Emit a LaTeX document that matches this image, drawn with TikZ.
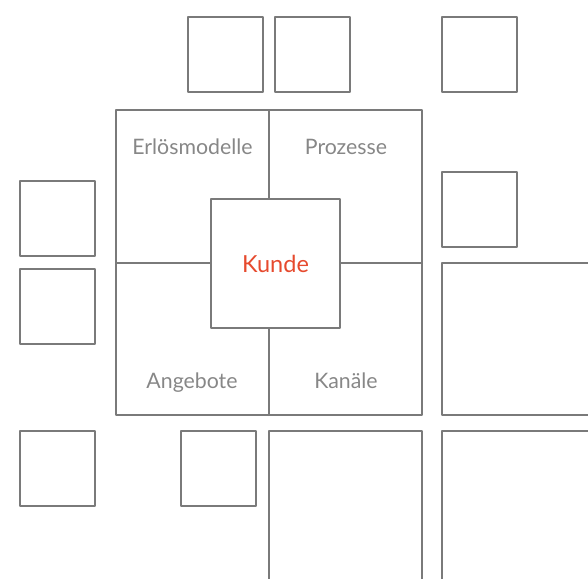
\documentclass[tikz,border=0pt]{standalone}
\usepackage{fontspec}
\setmainfont{Lato}
\definecolor{linegray}{RGB}{122,122,122}
\definecolor{textgray}{RGB}{135,135,135}
\definecolor{kundeorange}{RGB}{230,74,46}
\begin{document}
\begin{tikzpicture}[x=1pt,y=-1pt,line join=round,
	box/.style={draw=linegray,line width=2pt,minimum size=75pt,inner sep=0pt},
	bigbox/.style={box,minimum size=153pt},
	lbl/.style={text=textgray,anchor=base,font=\fontsize{21.3}{25}\selectfont}]
	\useasboundingbox (0,0) rectangle (588,578);
	\clip (0,0) rectangle (588,578);
	% kleine Quadrate
	\node[box] (t1) at (225.5,54.5) {};
	\node[box] (t2) at (312.5,54.5) {};
	\node[box] (t3) at (479.5,54.5) {};
	\node[box] (l1) at (57.5,218.5) {};
	\node[box] (l2) at (57.5,306.5) {};
	\node[box] (l3) at (57.5,468.5) {};
	\node[box] (r1) at (479.5,209.5) {};
	\node[box] (b1) at (218.5,468.5) {};
	% grosse Quadrate
	\node[bigbox,minimum height=152pt] (rb) at (518.5,339) {};
	\node[bigbox] (bb) at (345.5,507.5) {};
	\node[bigbox] (br) at (518.5,507.5) {};
	% Rahmen mit Kunde
	\node[box,minimum width=306pt,minimum height=305pt] (frame) at (269,262.5) {};
	\node[box,minimum size=129pt,font=\fontsize{23.5}{28}\selectfont,text=kundeorange] (kunde) at (275.5,263.5) {Kunde};
	\draw[linegray,line width=2pt] (frame.north)--(frame.north |- kunde.north);
	\draw[linegray,line width=2pt] (frame.south)--(frame.south |- kunde.south);
	\draw[linegray,line width=2pt] (frame.west)--(frame.west -| kunde.west);
	\draw[linegray,line width=2pt] (frame.east)--(frame.east -| kunde.east);
	\node[lbl] (erl) at (192.5,154) {Erlösmodelle};
	\node[lbl] (proz) at (346,154) {Prozesse};
	\node[lbl] (ang) at (192,388.5) {Angebote};
	\node[lbl] (kan) at (346,388.5) {Kanäle};
\end{tikzpicture}
\end{document}
